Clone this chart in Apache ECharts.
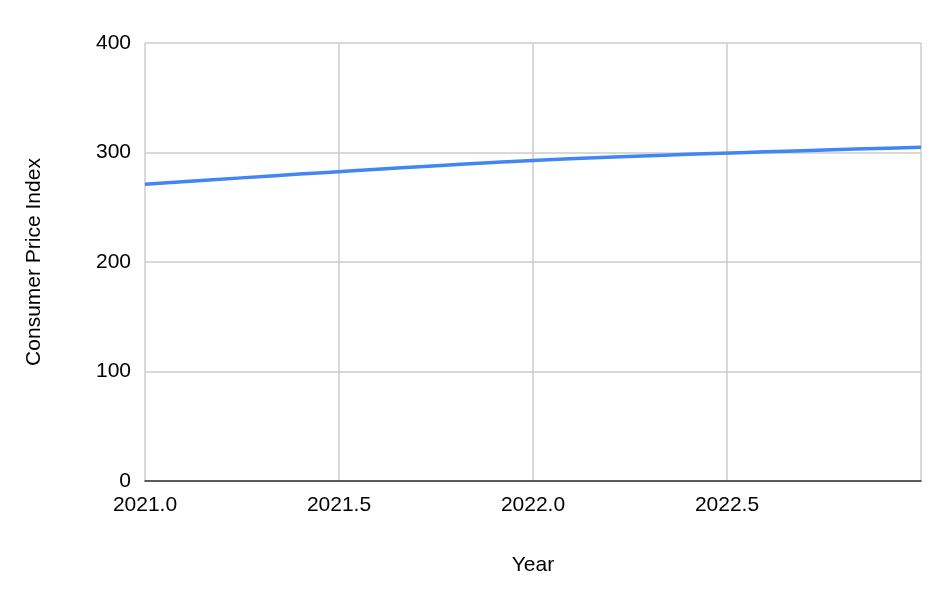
<!DOCTYPE html>
<html><head><meta charset="utf-8">
<script src="https://cdn.jsdelivr.net/npm/echarts@6/dist/echarts.min.js"></script>
<style>html,body{margin:0;padding:0;background:#fff}#c{width:952px;height:608px}</style>
</head><body><div id="c"></div>
<script>
const years = [2021, 2022, 2023];
const cpi = [271.0, 292.7, 304.7];
const yTicks = [0, 100, 200, 300, 400];
const chart = echarts.init(document.getElementById('c'));
const font = 'Liberation Sans, Arial, sans-serif';
chart.setOption({
  animation: false,
  grid: {left: 145, right: 31, top: 43, bottom: 127},
  xAxis: {
    type: 'value', min: 2021, max: 2023, interval: 0.5,
    name: 'Year', nameLocation: 'middle', nameGap: 74,
    nameTextStyle: {fontFamily: font, fontSize: 21, color: '#000'},
    axisLine: {lineStyle: {color: '#333', width: 1.5}},
    axisTick: {show: false},
    axisLabel: {fontFamily: font, fontSize: 21, color: '#000', showMaxLabel: false, margin: 14,
      formatter: v => v.toFixed(1)},
    splitLine: {show: true, lineStyle: {color: '#ccc', width: 1.5}}
  },
  yAxis: {
    type: 'value', min: yTicks[0], max: yTicks[yTicks.length-1], interval: 100,
    name: 'Consumer Price Index', nameLocation: 'middle', nameGap: 100,
    nameTextStyle: {fontFamily: font, fontSize: 21, color: '#000'},
    axisLine: {show: false}, axisTick: {show: false},
    axisLabel: {fontFamily: font, fontSize: 21, color: '#000', margin: 14},
    splitLine: {lineStyle: {color: '#ccc', width: 1.5}}
  },
  series: [{
    type: 'line', data: years.map((y, i) => [y, cpi[i]]),
    showSymbol: false, smooth: 0.3,
    lineStyle: {color: '#4285f4', width: 3.5}
  }]
});
</script></body></html>
